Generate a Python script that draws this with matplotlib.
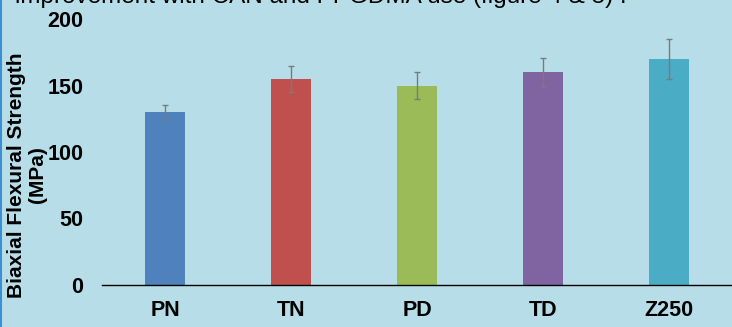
import numpy as np
import matplotlib.pyplot as plt
from matplotlib.lines import Line2D

plt.rcParams['font.family'] = ['Liberation Sans', 'DejaVu Sans']

groups = ["PN", "TN", "PD", "TD", "Z250"]
strength = [130, 155, 150, 160, 170]
strength_sd = [5, 10, 10, 11, 15]
bar_colors = ["#4f81bd", "#c0504d", "#9bbb59", "#8064a2", "#4bacc6"]

bg = "#b7dee8"
fig = plt.figure(figsize=(7.32, 3.27), dpi=100, facecolor=bg)
ax = fig.add_axes([102 / 732, 42 / 327, 630 / 732, 266 / 327])
ax.set_facecolor(bg)

x = np.arange(len(groups))
ax.bar(x, strength, width=0.317, color=bar_colors, zorder=2)
ax.errorbar(x, strength, yerr=strength_sd, fmt="none", ecolor="#7a7a7a",
            elinewidth=1, capsize=2.5, capthick=1, zorder=3)

ax.set_xlim(-0.5, len(groups) - 0.5)
ax.set_ylim(0, 200)
ax.set_yticks([0, 50, 100, 150, 200])
ax.set_xticks(x)
ax.set_xticklabels(groups)
for s in ["top", "right", "left"]:
    ax.spines[s].set_visible(False)
ax.spines["bottom"].set_color("black")
ax.spines["bottom"].set_linewidth(1)
ax.tick_params(axis="y", length=0, pad=13.5, labelsize=15.5)
ax.tick_params(axis="x", length=0, pad=11, labelsize=15.5)
for lbl in ax.get_xticklabels() + ax.get_yticklabels():
    lbl.set_fontweight("bold")

fig.text(27 / 732, 1 - 175 / 327, "Biaxial Flexural Strength\n(MPa)", rotation=90,
         ha="center", va="center", fontsize=15, fontweight="bold",
         linespacing=1.1, multialignment="center")

# slide text running off the top edge
fig.text(15 / 732, 1 - 3 / 327, "improvement with CAN and PPGDMA use (figure 4 & 5) .",
         ha="left", va="baseline", fontsize=17.5, color="black")

# thin frame edge on the left
fig.add_artist(Line2D([0.001, 0.001], [0, 1], transform=fig.transFigure,
                      color="#3d8fd1", linewidth=1.5))

fig.savefig("out.png", dpi=100, facecolor=bg)
